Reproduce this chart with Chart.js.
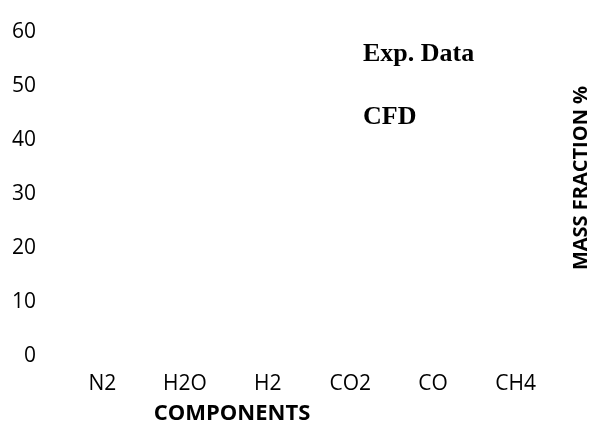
<!DOCTYPE html>
<html>
<head>
<meta charset="utf-8">
<script src="https://cdn.jsdelivr.net/npm/chart.js@4"></script>
<style>
  html, body { margin: 0; padding: 0; background: #fff; }
  #wrap { width: 593px; height: 426px; }
</style>
</head>
<body>
<div id="wrap"><canvas id="myChart"></canvas></div>
<script>
// data - the bars themselves are not visible, so no values
var components = ['N2', 'H2O', 'H2', 'CO2', 'CO', 'CH4'];
var expData = [null, null, null, null, null, null];
var cfdData = [null, null, null, null, null, null];
var seriesNames = ['Exp. Data', 'CFD'];

// draws the legend words, the x title and the rotated y title
var textPlugin = {
    id: 'textPlugin',
    afterDraw: function (chart) {
        var c = chart.ctx;
        c.save();
        c.fillStyle = '#000';
        c.textBaseline = 'middle';

        // legend (text only)
        c.font = 'bold 26px "Liberation Serif"';
        c.textAlign = 'left';
        chart.data.datasets.forEach(function (ds, i) {
            c.fillText(ds.label, 363, 54 + i * 63);
        });

        // x title
        c.font = 'bold 22px "Open Sans"';
        c.textAlign = 'center';
        c.fillText('COMPONENTS', 232, 414);

        // y title on the right
        c.translate(581, 178);
        c.rotate(-Math.PI / 2);
        c.font = 'bold 20px "Open Sans"';
        c.fillText('MASS FRACTION %', 0, 0);
        c.restore();
    }
};

var ctx = document.getElementById('myChart').getContext('2d');

var myChart = new Chart(ctx, {
    type: 'bar',
    data: {
        labels: components,
        datasets: [{
            label: seriesNames[0],
            data: expData,
            backgroundColor: 'rgba(0, 0, 0, 0)'
        }, {
            label: seriesNames[1],
            data: cfdData,
            backgroundColor: 'rgba(0, 0, 0, 0)'
        }]
    },
    options: {
        responsive: true,
        maintainAspectRatio: false,
        animation: false,
        layout: {
            padding: { left: 0, right: 36, top: 32, bottom: 0 }
        },
        plugins: {
            legend: { display: false },
            tooltip: { enabled: false }
        },
        scales: {
            x: {
                grid: { display: false, drawTicks: false },
                border: { display: false },
                afterFit: function (scale) { scale.height = 70; },
                ticks: {
                    color: '#000',
                    padding: 15,
                    maxRotation: 0,
                    font: { family: 'Open Sans', size: 21 }
                }
            },
            y: {
                min: 0,
                max: 60,
                grid: { display: false, drawTicks: false },
                border: { display: false },
                afterFit: function (scale) {
                    scale.width = 61;
                    scale.paddingTop = 0;
                    scale.paddingBottom = 0;
                },
                ticks: {
                    stepSize: 10,
                    color: '#000',
                    padding: 25,
                    font: { family: 'Open Sans', size: 21 }
                }
            }
        }
    },
    plugins: [textPlugin]
});
</script>
</body>
</html>
